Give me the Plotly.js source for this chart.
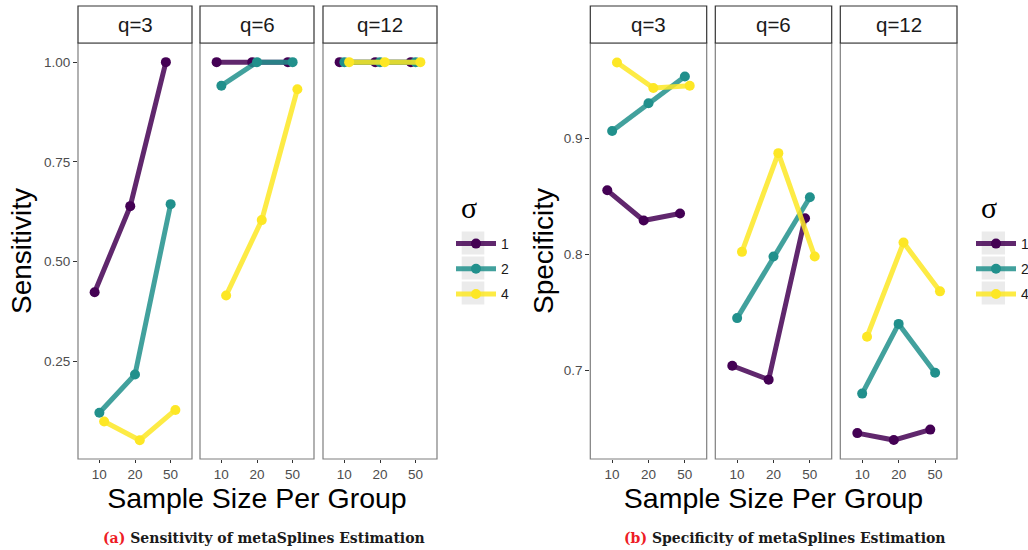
<!DOCTYPE html>
<html>
<head>
<meta charset="utf-8">
<script src="https://cdn.plot.ly/plotly-3.0.1.min.js"></script>
<style>html,body{margin:0;padding:0;background:#fff;}#chart{width:1028px;height:550px;}</style>
</head>
<body>
<div id="chart"></div>
<script>
// ---------- data ----------
const sampleSizes = ['10', '20', '50'];
const qLabels = ['q=3', 'q=6', 'q=12'];
const sigmaLabels = ['1', '2', '4'];
const sensTicks = [0.25, 0.50, 0.75, 1.00];
const specTicks = [0.7, 0.8, 0.9];

// Sensitivity
const sensQ3Sigma1 = [0.423, 0.639, 1.000];
const sensQ3Sigma2 = [0.121, 0.217, 0.644];
const sensQ3Sigma4 = [0.099, 0.052, 0.128];
const sensQ6Sigma1 = [1.000, 1.000, 1.000];
const sensQ6Sigma2 = [0.941, 1.000, 1.000];
const sensQ6Sigma4 = [0.415, 0.604, 0.932];
const sensQ12Sigma1 = [1.000, 1.000, 1.000];
const sensQ12Sigma2 = [1.000, 1.000, 1.000];
const sensQ12Sigma4 = [1.000, 1.000, 1.000];

// Specificity
const specQ3Sigma1 = [0.855, 0.829, 0.835];
const specQ3Sigma2 = [0.906, 0.930, 0.953];
const specQ3Sigma4 = [0.965, 0.943, 0.945];
const specQ6Sigma1 = [0.704, 0.692, 0.831];
const specQ6Sigma2 = [0.745, 0.798, 0.849];
const specQ6Sigma4 = [0.802, 0.887, 0.798];
const specQ12Sigma1 = [0.646, 0.640, 0.649];
const specQ12Sigma2 = [0.680, 0.740, 0.698];
const specQ12Sigma4 = [0.729, 0.810, 0.768];

const panels = [
  [[sensQ3Sigma1, sensQ3Sigma2, sensQ3Sigma4],
   [sensQ6Sigma1, sensQ6Sigma2, sensQ6Sigma4],
   [sensQ12Sigma1, sensQ12Sigma2, sensQ12Sigma4]],
  [[specQ3Sigma1, specQ3Sigma2, specQ3Sigma4],
   [specQ6Sigma1, specQ6Sigma2, specQ6Sigma4],
   [specQ12Sigma1, specQ12Sigma2, specQ12Sigma4]]
];

// ---------- styling / geometry ----------
const W = 1028, H = 550;
const px = v => v / W;
const py = v => 1 - v / H;
const FONT = 'Liberation Sans, Arial, sans-serif';
const markerColors = ['#440154', '#21908C', '#FDE725'];
const lineColors = ['rgba(68,1,84,0.85)', 'rgba(33,144,140,0.85)', 'rgba(253,231,37,0.85)'];
const dodgeWidth = 0.4;
const facetX = [[78, 192], [200, 314], [323, 437], [590.3, 706.7], [715.3, 831.7], [840.3, 957]];
const panelTop = 43, panelBottom = 459, stripTop = 6;

const traces = [];
panels.forEach((panel, p) => {
  panel.forEach((facet, f) => {
    const idx = p * 3 + f;
    const xa = 'x' + (idx === 0 ? '' : idx + 1);
    const ya = p === 0 ? 'y' : 'y2';
    facet.forEach((vals, s) => {
      traces.push({
        type: 'scatter',
        mode: 'lines+markers',
        x: sampleSizes.map((_, j) => j + 1 + (s - 1) * dodgeWidth / 3),
        y: vals,
        xaxis: xa, yaxis: ya,
        name: sigmaLabels[s],
        legend: p === 0 ? 'legend' : 'legend2',
        legendgroup: 'p' + p + 's' + s,
        showlegend: f === 0,
        line: {color: lineColors[s], width: 5},
        marker: {color: markerColors[s], size: 10},
        hoverinfo: 'skip'
      });
    });
  });
});

const layout = {
  width: W, height: H,
  margin: {l: 0, r: 0, t: 0, b: 0, autoexpand: false},
  paper_bgcolor: '#fff', plot_bgcolor: '#fff',
  font: {family: FONT, color: '#000'},
  showlegend: true,
  shapes: [], annotations: []
};

facetX.forEach((fx, i) => {
  const key = 'xaxis' + (i === 0 ? '' : i + 1);
  layout[key] = {
    domain: [px(fx[0]), px(fx[1])],
    anchor: i < 3 ? 'y' : 'y2',
    range: [0.4, 3.6],
    tickmode: 'array',
    tickvals: sampleSizes.map((_, j) => j + 1),
    ticktext: sampleSizes,
    ticks: 'outside', ticklen: 3, tickcolor: '#333', tickwidth: 1,
    tickfont: {family: FONT, size: 13.5, color: '#4d4d4d'},
    showgrid: false, zeroline: false, showline: false, fixedrange: true
  };
  if (i === 1 || i === 4) {
    layout[key].title = {text: 'Sample Size Per Group', font: {family: FONT, size: 28.5, color: '#000'}, standoff: 0};
  }
  layout.shapes.push({type: 'rect', xref: 'paper', yref: 'paper',
    x0: px(fx[0]), x1: px(fx[1]), y0: py(panelBottom), y1: py(panelTop),
    line: {color: '#7f7f7f', width: 1.2}, fillcolor: 'rgba(0,0,0,0)', layer: 'above'});
  layout.shapes.push({type: 'rect', xref: 'paper', yref: 'paper',
    x0: px(fx[0]), x1: px(fx[1]), y0: py(panelTop), y1: py(stripTop),
    line: {color: '#333', width: 1.2}, fillcolor: '#fff', layer: 'above'});
  layout.annotations.push({xref: 'paper', yref: 'paper', x: (px(fx[0]) + px(fx[1])) / 2,
    y: py((panelTop + stripTop) / 2), text: qLabels[i % 3], showarrow: false,
    xanchor: 'center', yanchor: 'middle', font: {family: FONT, size: 20.5, color: '#1a1a1a'}});
});

const yCommon = {
  domain: [py(panelBottom), py(panelTop)],
  ticks: 'outside', ticklen: 4, tickcolor: '#333', tickwidth: 1,
  tickfont: {family: FONT, size: 13.5, color: '#4d4d4d'},
  showgrid: false, zeroline: false, showline: false, fixedrange: true, tickmode: 'array'
};
layout.yaxis = Object.assign({}, yCommon, {
  anchor: 'x', range: [0.005, 1.048], tickvals: sensTicks, tickformat: '.2f',
  title: {text: 'Sensitivity', font: {family: FONT, size: 28, color: '#000'}, standoff: 4}
});
layout.yaxis2 = Object.assign({}, yCommon, {
  anchor: 'x4', range: [0.6237, 0.9818], tickvals: specTicks, tickformat: '.1f',
  title: {text: 'Specificity', font: {family: FONT, size: 28, color: '#000'}, standoff: 2}
});

const legendCommon = {
  xanchor: 'left', yanchor: 'top', bgcolor: 'rgba(0,0,0,0)', borderwidth: 0,
  font: {family: FONT, size: 14, color: '#1a1a1a'},
  itemwidth: 40,
  tracegroupgap: 4, traceorder: 'grouped', itemclick: false, itemdoubleclick: false
};
layout.legend = Object.assign({}, legendCommon, {x: px(451), y: py(228)});
layout.legend2 = Object.assign({}, legendCommon, {x: px(971), y: py(228)});

// legend titles and grey key backgrounds
[[461.7, 484.3], [981.7, 1005]].forEach(kx => {
  layout.annotations.push({xref: 'paper', yref: 'paper', x: px((kx[0] + kx[1]) / 2 - 4), y: py(207),
    text: 'σ', showarrow: false, xanchor: 'center', yanchor: 'middle',
    font: {family: 'Liberation Serif, Times New Roman, serif', size: 30, color: '#000'}});
  [243, 268, 293].forEach(cy => {
    layout.shapes.push({type: 'rect', xref: 'paper', yref: 'paper',
      x0: px(kx[0]), x1: px(kx[1]), y0: py(cy + 11.5), y1: py(cy - 11.5),
      line: {width: 0}, fillcolor: '#ebebeb', layer: 'above'});
  });
});

// captions
layout.annotations.push({xref: 'paper', yref: 'paper', x: px(264), y: py(538), showarrow: false,
  xanchor: 'center', yanchor: 'middle',
  text: '<b><span style="color:#ee1c25">(a)</span> Sensitivity of metaSplines Estimation</b>',
  font: {family: 'DejaVu Serif, serif', size: 14, color: '#1a1a1a'}});
layout.annotations.push({xref: 'paper', yref: 'paper', x: px(784.5), y: py(538), showarrow: false,
  xanchor: 'center', yanchor: 'middle',
  text: '<b><span style="color:#ee1c25">(b)</span> Specificity of metaSplines Estimation</b>',
  font: {family: 'DejaVu Serif, serif', size: 14, color: '#1a1a1a'}});

Plotly.newPlot('chart', traces, layout, {displayModeBar: false, staticPlot: true});
</script>
</body>
</html>
